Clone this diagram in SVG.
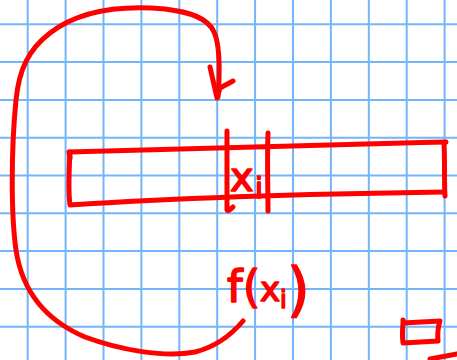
<svg xmlns="http://www.w3.org/2000/svg" width="457" height="360" viewBox="0 0 457 360">
<style>
.grid line{stroke:#74b4fb;stroke-width:2}
.ink{fill:none;stroke:#ff0000;stroke-width:5;stroke-linecap:round;stroke-linejoin:round}
.hand{fill:#ff0000;stroke:#ff0000;stroke-width:1.6;stroke-linejoin:round;font-family:"DejaVu Sans",sans-serif}
</style>
<rect width="457" height="360" fill="#ffffff"/>
<g class="grid">
<line x1="27.7" y1="0" x2="27.7" y2="360"/>
<line x1="65.6" y1="0" x2="65.6" y2="360"/>
<line x1="103.5" y1="0" x2="103.5" y2="360"/>
<line x1="141.4" y1="0" x2="141.4" y2="360"/>
<line x1="179.3" y1="0" x2="179.3" y2="360"/>
<line x1="217.2" y1="0" x2="217.2" y2="360"/>
<line x1="255.1" y1="0" x2="255.1" y2="360"/>
<line x1="293" y1="0" x2="293" y2="360"/>
<line x1="330.9" y1="0" x2="330.9" y2="360"/>
<line x1="368.8" y1="0" x2="368.8" y2="360"/>
<line x1="406.7" y1="0" x2="406.7" y2="360"/>
<line x1="444.6" y1="0" x2="444.6" y2="360"/>
<line x1="0" y1="24.3" x2="457" y2="24.3"/>
<line x1="0" y1="62.1" x2="457" y2="62.1"/>
<line x1="0" y1="99.9" x2="457" y2="99.9"/>
<line x1="0" y1="137.7" x2="457" y2="137.7"/>
<line x1="0" y1="175.5" x2="457" y2="175.5"/>
<line x1="0" y1="213.3" x2="457" y2="213.3"/>
<line x1="0" y1="251.1" x2="457" y2="251.1"/>
<line x1="0" y1="288.9" x2="457" y2="288.9"/>
<line x1="0" y1="326.7" x2="457" y2="326.7"/>
</g>
<g id="array">
<path class="ink" d="M70,158 L69,152 C150,149 300,145 446,142"/>
<path class="ink" d="M444,143 C445,160 444,180 445,196"/>
<path class="ink" d="M444,192 C300,194 160,199 70,205 C68,190 69,170 70,152"/>
</g>
<g id="cell">
<path class="ink" d="M227,131 C227,160 227,190 227,210 Q228,212 233,207"/>
<path class="ink" d="M268,133 C267,160 268,190 268,211"/>
<text class="hand" x="230" y="191" font-size="40">x<tspan x="255" y="198" font-size="28">i</tspan></text>
</g>
<g id="label">
<text class="hand" x="227" y="302" font-size="44">f<tspan x="243" font-size="44">(</tspan><tspan x="260" y="301" font-size="34">x</tspan><tspan x="280" y="308" font-size="24">i</tspan><tspan x="287" y="310" font-size="58">)</tspan></text>
</g>
<g id="box">
<path class="ink" d="M403,320 L403,323 L440,321 Q437,330 438,341 L403,343 Q402,335 403,323"/>
</g>
<g id="connectors">
<path class="ink" d="M243,321 C232,334 215,347 195,352 C165,358 120,350 85,337 C45,320 22,290 16,250 C11,215 11,150 16,100 C19,70 28,50 50,33 C80,10 120,5 165,9 C190,12 208,18 214,32 C220,45 220,70 218,97"/>
<path class="ink" d="M210,67 L217,98 L220,88 L233,81"/>
<path class="ink" d="M430,359 L457,354"/>
</g>
</svg>
